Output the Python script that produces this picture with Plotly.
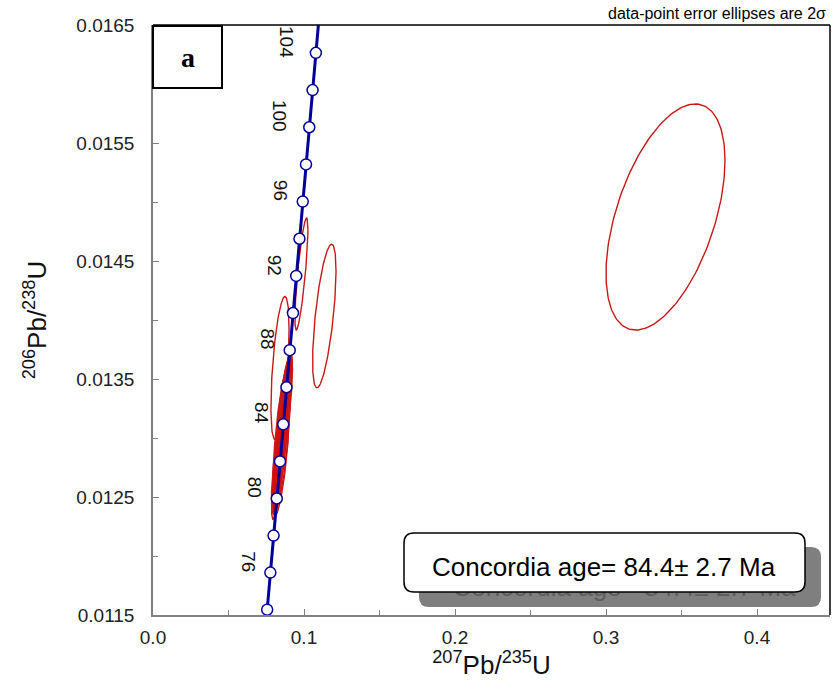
import numpy as np
import plotly.graph_objects as go

# ---- data ----
marker_ages = [74, 76, 78, 80, 82, 84, 86, 88, 90, 92, 94, 96, 98, 100, 102, 104]
label_ages = [76, 80, 84, 88, 92, 96, 100, 104]
curve_age_min, curve_age_max = 72, 108

# error ellipses (2 sigma): centre x, centre y, half-width x, half-height y, correlation
ell_cx = [0.3394, 0.11345, 0.0983, 0.0841,
          0.0850, 0.0842, 0.0858, 0.0836, 0.0864, 0.0852, 0.0830,
          0.0868, 0.0845, 0.0874, 0.0858, 0.0846, 0.0878, 0.0834]
ell_cy = [0.014873, 0.014034, 0.01439, 0.013593,
          0.01295, 0.01285, 0.01310, 0.01277, 0.01318, 0.01300, 0.01276,
          0.01325, 0.01290, 0.01325, 0.01312, 0.01284, 0.01330, 0.01282]
ell_sx = [0.0394, 0.00775, 0.0043, 0.0060,
          0.0050, 0.0045, 0.0055, 0.0040, 0.0050, 0.0060, 0.0045,
          0.0048, 0.0038, 0.0050, 0.0042, 0.0055, 0.0045, 0.0050]
ell_sy = [0.000958, 0.000609, 0.000475, 0.000606,
          0.00052, 0.00048, 0.00055, 0.00042, 0.00050, 0.00060, 0.00045,
          0.00045, 0.00040, 0.00045, 0.00042, 0.00050, 0.00042, 0.00046]
ell_rho = [0.5, 0.63, 0.8, 0.55,
           0.8, 0.8, 0.75, 0.85, 0.8, 0.7, 0.8,
           0.8, 0.85, 0.75, 0.8, 0.7, 0.8, 0.75]
ell_filled = [False, False, False, False] + [True] * 14

x_ticks = [0.0, 0.1, 0.2, 0.3, 0.4]
y_ticks = [0.0115, 0.0125, 0.0135, 0.0145, 0.0155, 0.0165]
age_text = "Concordia age= 84.4\u00b1 2.7 Ma"

L238 = 1.55125e-10
L235 = 9.8485e-10


def conc(t_ma):
    t = np.asarray(t_ma, dtype=float) * 1e6
    return np.exp(L235 * t) - 1, np.exp(L238 * t) - 1


FONT = "Liberation Sans, Arial"
fig = go.Figure()

# pixel geometry for decorations
W, H = 834, 680
L, R, T, B = 153, 830, 25, 615
XPX = 1510.0          # pixels per unit of 207Pb/235U
Y0, Y1 = 0.0115, 0.0165


def px(x):
    return (x - L) / (R - L)


def py(y):
    return (B - y) / (B - T)


def dx(x):
    return (x - L) / XPX


def dy(y):
    return Y0 + (B - y) / (B - T) * (Y1 - Y0)


th = np.linspace(0, 2 * np.pi, 200)
for cx, cy, sx, sy, r, f in zip(ell_cx, ell_cy, ell_sx, ell_sy, ell_rho, ell_filled):
    ex = cx + sx * np.cos(th)
    ey = cy + sy * (r * np.cos(th) + np.sqrt(1 - r * r) * np.sin(th))
    fig.add_trace(go.Scatter(x=ex, y=ey, mode="lines",
                             line=dict(color="#c81818", width=1.4),
                             fill="toself" if f else None,
                             fillcolor="rgba(235,0,0,0.28)",
                             hoverinfo="skip", showlegend=False))

ages_fine = np.linspace(curve_age_min, curve_age_max, 200)
cx_, cy_ = conc(ages_fine)
fig.add_trace(go.Scatter(x=cx_, y=cy_, mode="lines",
                         line=dict(color="#000099", width=3),
                         showlegend=False, hoverinfo="skip"))
mx, my = conc(marker_ages)
fig.add_trace(go.Scatter(x=mx, y=my, mode="markers",
                         marker=dict(size=11, color="white",
                                     line=dict(color="#000099", width=1.5)),
                         showlegend=False))

# ghost (shadow) text, drawn as a trace so the white box can cover it
fig.add_trace(go.Scatter(x=[dx(624)], y=[dy(589)], mode="text", text=[age_text],
                         textposition="middle center",
                         textfont=dict(size=26, family=FONT, color="#5e5e5e"),
                         hoverinfo="skip", showlegend=False, cliponaxis=False))

lx, ly = conc(label_ages)
for a, x, y in zip(label_ages, lx, ly):
    s = str(a)
    fig.add_annotation(x=x, y=y, text=s, showarrow=False, textangle=90,
                       xshift=-22 - 8 * (len(s) - 2), yshift=11,
                       font=dict(size=19, color="#111", family=FONT))


def rrect(x0, y0, x1, y1, r):
    return (f"M {px(x0 + r)} {py(y0)} L {px(x1 - r)} {py(y0)} "
            f"Q {px(x1)} {py(y0)} {px(x1)} {py(y0 + r)} "
            f"L {px(x1)} {py(y1 - r)} Q {px(x1)} {py(y1)} {px(x1 - r)} {py(y1)} "
            f"L {px(x0 + r)} {py(y1)} Q {px(x0)} {py(y1)} {px(x0)} {py(y1 - r)} "
            f"L {px(x0)} {py(y0 + r)} Q {px(x0)} {py(y0)} {px(x0 + r)} {py(y0)} Z")


shapes = [
    dict(type="path", xref="paper", yref="paper", path=rrect(419, 547, 821, 607, 10),
         fillcolor="#7f7f7f", line=dict(width=0), layer="below"),
    dict(type="line", xref="paper", yref="paper", x0=0, x1=1, y0=1, y1=1,
         line=dict(color="black", width=1.5)),
    dict(type="line", xref="paper", yref="paper", x0=1, x1=1, y0=0, y1=1,
         line=dict(color="black", width=1.5)),
    dict(type="rect", xref="paper", yref="paper", x0=px(153), x1=px(222),
         y0=py(88), y1=py(26), line=dict(color="black", width=2), fillcolor="white"),
    dict(type="path", xref="paper", yref="paper", path=rrect(404, 533, 805, 592, 10),
         fillcolor="white", line=dict(color="black", width=1.5), layer="above"),
]
fig.update_layout(shapes=shapes)


def note(x, y, text, size, color="black", family=FONT, xanchor="center"):
    fig.add_annotation(xref="paper", yref="paper", x=px(x), y=py(y), text=text,
                       xanchor=xanchor, yanchor="middle", showarrow=False,
                       font=dict(size=size, family=family, color=color))


note(187.5, 57, "<b>a</b>", 28, family="Liberation Serif, Times New Roman")
note(604, 567, age_text, 26)
note(828, 14, "data-point error ellipses are 2\u03c3", 16, xanchor="right")

fig.update_xaxes(range=[0, (R - L) / XPX], tickvals=x_ticks,
                 ticktext=[f"{v:.1f}" for v in x_ticks],
                 ticks="inside", ticklen=6, tickcolor="#808080",
                 minor=dict(dtick=0.05, ticks="inside", ticklen=5, tickcolor="#808080"),
                 showline=True, linecolor="#808080", linewidth=1.5,
                 showgrid=False, zeroline=False, ticklabelstandoff=4,
                 tickfont=dict(size=19, family=FONT, color="#222"),
                 title=dict(text="<sup>207</sup>Pb/<sup>235</sup>U", standoff=2,
                            font=dict(size=26, family=FONT, color="#111")))
fig.update_yaxes(range=[Y0, Y1], tickvals=y_ticks,
                 ticktext=[f"{v:.4f}" for v in y_ticks],
                 ticks="inside", ticklen=6, tickcolor="#808080",
                 minor=dict(dtick=0.0005, ticks="inside", ticklen=5, tickcolor="#808080"),
                 showline=True, linecolor="#808080", linewidth=1.5,
                 showgrid=False, zeroline=False, ticklabelstandoff=13,
                 tickfont=dict(size=19, family=FONT, color="#222"),
                 title=dict(text="<sup>206</sup>Pb/<sup>238</sup>U", standoff=22,
                            font=dict(size=26, family=FONT, color="#111")))

fig.update_layout(width=W, height=H, margin=dict(l=L, r=W - R, t=T, b=H - B),
                  plot_bgcolor="white", paper_bgcolor="white", showlegend=False)

fig.write_html("out.html")
